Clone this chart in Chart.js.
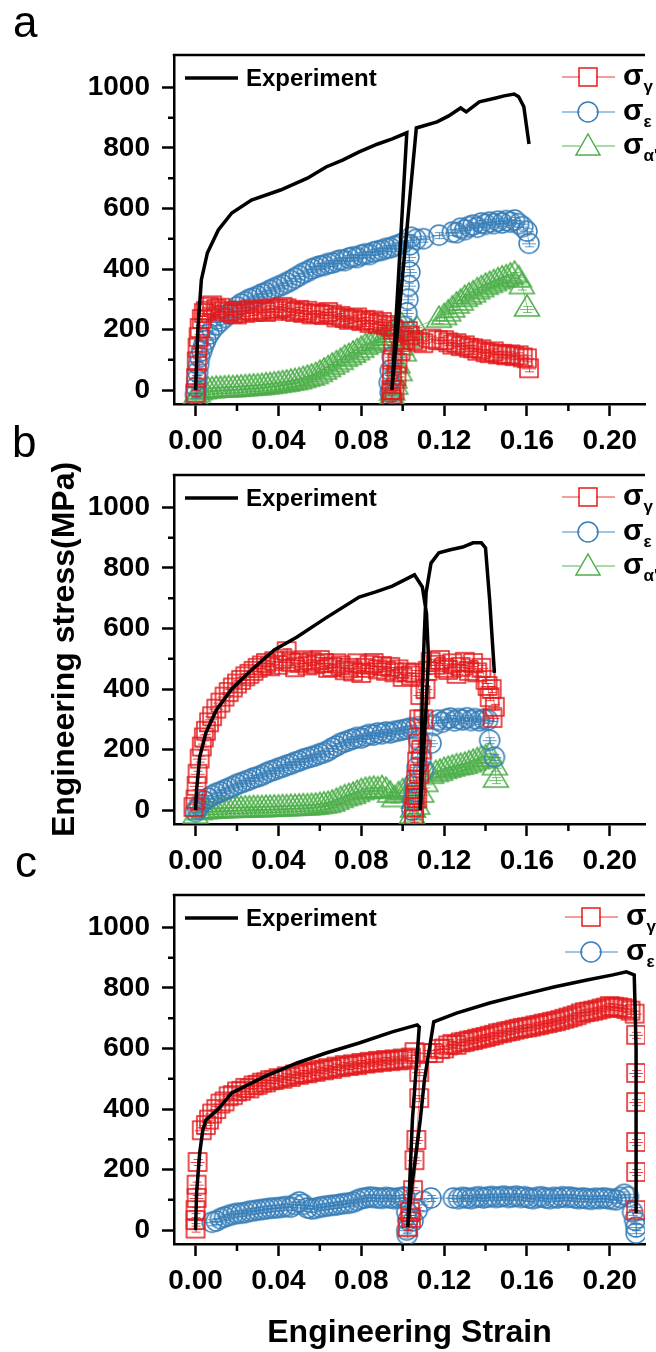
<!DOCTYPE html>
<html lang="en">
<head>
<meta charset="UTF-8">
<title>Engineering stress vs strain</title>
<script src="https://cdn.jsdelivr.net/npm/chart.js"></script>
<style>
  html, body { margin: 0; padding: 0; background: #fff; overflow: hidden; }
  body { width: 656px; height: 1352px; position: relative; }
  canvas { position: absolute; left: 0; }
</style>
</head>
<body>
<canvas id="chartA" width="656" height="470" style="top:0px"></canvas>
<canvas id="chartB" width="656" height="470" style="top:420px"></canvas>
<canvas id="chartC" width="656" height="512" style="top:840px"></canvas>
<script>
// axis ticks
const xTicks = [0, 0.04, 0.08, 0.12, 0.16, 0.20];
const xMinor = [0.02, 0.06, 0.10, 0.14, 0.18];
const yTicks = [0, 200, 400, 600, 800, 1000];
const yMinor = [100, 300, 500, 700, 900];

// ---- panel a : [strain, stress MPa] ----
const aExp = [[0,0],[0.0011,198],[0.0028,364],[0.0057,453],[0.011,529],[0.0175,585],[0.027,628],[0.041,661],[0.054,700],[0.063,737],[0.071,760],[0.079,787],[0.088,813],[0.095,830],[0.102,850],[0.0948,0],[0.1066,866],[0.1166,886],[0.122,905],[0.128,932],[0.1307,919],[0.137,952],[0.145,965],[0.149,972],[0.1538,978],[0.156,969],[0.1585,936],[0.161,813]];
const aGamma = [[0,-10],[0.0003,40],[0.0006,95],[0.001,140],[0.0015,175],[0.002,205],[0.003,235],[0.004,255],[0.005,262],[0.0065,275],[0.008,280],[0.01,268],[0.012,272],[0.014,262],[0.016,258],[0.018,252],[0.02,250],[0.022,262],[0.024,255],[0.026,265],[0.028,258],[0.03,262],[0.032,266],[0.034,258],[0.036,270],[0.038,262],[0.04,268],[0.042,275],[0.044,270],[0.046,262],[0.048,258],[0.05,265],[0.052,255],[0.054,262],[0.056,250],[0.058,254],[0.06,252],[0.062,248],[0.064,258],[0.066,250],[0.068,240],[0.07,245],[0.072,238],[0.074,232],[0.076,236],[0.078,240],[0.08,228],[0.082,232],[0.084,222],[0.086,230],[0.088,218],[0.09,225],[0.092,215],[0.094,210],[0.0955,200],[0.0955,150],[0.095,100],[0.0948,50],[0.0945,0],[0.0945,-25],[0.095,-38],[0.096,0],[0.097,45],[0.0975,90],[0.099,130],[0.1005,165],[0.1025,195],[0.1035,180],[0.105,165],[0.107,160],[0.11,155],[0.114,170],[0.117,165],[0.12,165],[0.122,158],[0.124,150],[0.126,155],[0.128,145],[0.13,148],[0.132,140],[0.134,138],[0.136,130],[0.138,135],[0.14,125],[0.142,122],[0.144,128],[0.146,118],[0.148,120],[0.15,115],[0.152,118],[0.154,112],[0.156,115],[0.158,108],[0.16,105],[0.161,72]];
const aEps = [[0,-15],[0.0003,10],[0.0006,35],[0.001,60],[0.0015,85],[0.002,110],[0.003,130],[0.004,150],[0.005,165],[0.0065,185],[0.008,200],[0.01,215],[0.012,228],[0.014,240],[0.016,252],[0.018,262],[0.02,275],[0.022,285],[0.024,292],[0.026,300],[0.028,305],[0.03,310],[0.032,318],[0.034,322],[0.036,330],[0.038,336],[0.04,342],[0.042,348],[0.044,355],[0.046,362],[0.048,370],[0.05,378],[0.052,386],[0.054,392],[0.056,400],[0.058,405],[0.06,410],[0.062,412],[0.064,418],[0.066,420],[0.068,425],[0.07,430],[0.072,428],[0.074,436],[0.076,440],[0.078,438],[0.08,446],[0.082,450],[0.084,448],[0.086,456],[0.088,460],[0.09,462],[0.092,468],[0.094,470],[0.096,475],[0.098,480],[0.1,485],[0.0965,200],[0.095,110],[0.094,65],[0.0935,25],[0.094,-8],[0.1005,210],[0.102,255],[0.1025,300],[0.103,345],[0.1035,390],[0.103,440],[0.1035,480],[0.104,505],[0.1065,498],[0.11,500],[0.1175,512],[0.124,522],[0.126,520],[0.128,535],[0.13,530],[0.132,540],[0.134,545],[0.136,538],[0.138,552],[0.14,548],[0.142,555],[0.144,550],[0.146,558],[0.148,552],[0.15,560],[0.152,555],[0.154,562],[0.156,550],[0.158,540],[0.16,525],[0.161,485]];
const aAlpha = [[0,-15],[0.001,-5],[0.002,2],[0.004,5],[0.006,8],[0.008,8],[0.01,10],[0.012,10],[0.014,11],[0.016,12],[0.018,12],[0.02,13],[0.022,14],[0.024,15],[0.026,16],[0.028,17],[0.03,18],[0.032,19],[0.034,21],[0.036,22],[0.038,24],[0.04,26],[0.042,28],[0.044,30],[0.046,33],[0.048,35],[0.05,38],[0.052,42],[0.054,46],[0.056,50],[0.058,55],[0.06,62],[0.062,70],[0.064,78],[0.066,86],[0.068,94],[0.07,102],[0.072,112],[0.074,118],[0.076,126],[0.078,134],[0.08,142],[0.082,152],[0.084,158],[0.086,164],[0.088,168],[0.09,172],[0.092,182],[0.094,192],[0.096,202],[0.098,212],[0.0995,220],[0.099,150],[0.0975,90],[0.096,40],[0.095,0],[0.0948,-15],[0.095,-25],[0.0965,20],[0.0985,65],[0.1005,130],[0.1025,175],[0.104,200],[0.107,208],[0.1175,241],[0.12,250],[0.122,262],[0.124,275],[0.126,288],[0.128,298],[0.13,310],[0.132,318],[0.134,325],[0.136,335],[0.138,342],[0.14,350],[0.142,356],[0.144,362],[0.146,368],[0.148,374],[0.15,378],[0.152,384],[0.154,390],[0.156,375],[0.1575,352],[0.16,278]];

// ---- panel b ----
const bExp = [[0,0],[0.0005,66],[0.002,175],[0.005,255],[0.01,330],[0.0175,400],[0.027,463],[0.038,529],[0.049,572],[0.063,635],[0.079,704],[0.087,721],[0.095,740],[0.1057,777],[0.1095,737],[0.1115,650],[0.1125,500],[0.111,300],[0.1085,0],[0.1095,397],[0.1104,572],[0.1113,717],[0.1137,816],[0.1175,850],[0.123,860],[0.129,869],[0.134,883],[0.138,883],[0.14,866],[0.142,694],[0.1443,453]];
const bGamma = [[-0.001,10],[0,35],[0.0005,80],[0.001,120],[0.002,170],[0.003,210],[0.004,240],[0.005,262],[0.0065,290],[0.008,310],[0.01,335],[0.012,355],[0.014,375],[0.016,390],[0.018,405],[0.02,418],[0.022,430],[0.024,442],[0.026,450],[0.028,460],[0.03,470],[0.032,478],[0.034,486],[0.036,475],[0.038,492],[0.04,480],[0.042,500],[0.044,525],[0.046,490],[0.048,472],[0.05,486],[0.052,495],[0.054,478],[0.056,490],[0.058,482],[0.06,496],[0.062,486],[0.064,470],[0.066,473],[0.068,485],[0.07,478],[0.072,462],[0.074,470],[0.076,458],[0.078,485],[0.08,453],[0.082,470],[0.084,480],[0.086,486],[0.088,465],[0.09,476],[0.092,460],[0.094,473],[0.096,455],[0.098,465],[0.1,440],[0.102,455],[0.104,445],[0.106,453],[0.1085,380],[0.108,300],[0.1075,220],[0.107,160],[0.1065,100],[0.106,50],[0.1055,10],[0.1055,-30],[0.107,40],[0.108,120],[0.109,200],[0.11,300],[0.111,400],[0.112,460],[0.1135,490],[0.116,480],[0.118,496],[0.12,470],[0.122,463],[0.124,485],[0.126,450],[0.128,473],[0.13,490],[0.132,460],[0.134,486],[0.136,455],[0.138,470],[0.14,430],[0.141,410],[0.142,373],[0.143,400],[0.1445,341],[0.1434,304]];
const bEps = [[0,-5],[0.001,5],[0.002,15],[0.004,30],[0.006,40],[0.008,48],[0.01,55],[0.012,60],[0.014,66],[0.016,72],[0.018,78],[0.02,85],[0.022,90],[0.024,95],[0.026,100],[0.028,106],[0.03,110],[0.032,115],[0.034,122],[0.036,128],[0.038,132],[0.04,138],[0.042,142],[0.044,148],[0.046,152],[0.048,158],[0.05,162],[0.052,168],[0.054,172],[0.056,176],[0.058,180],[0.06,186],[0.062,190],[0.064,196],[0.066,205],[0.068,212],[0.07,220],[0.072,225],[0.074,230],[0.076,235],[0.078,240],[0.08,238],[0.082,245],[0.084,250],[0.086,248],[0.088,255],[0.09,252],[0.092,258],[0.094,255],[0.096,260],[0.098,262],[0.1,265],[0.102,268],[0.104,272],[0.106,270],[0.108,230],[0.109,175],[0.107,142],[0.1057,89],[0.105,33],[0.1045,0],[0.106,60],[0.11,130],[0.1137,221],[0.115,280],[0.117,297],[0.119,290],[0.121,300],[0.123,304],[0.125,295],[0.127,302],[0.129,298],[0.131,305],[0.133,296],[0.135,302],[0.137,295],[0.139,300],[0.141,298],[0.142,231],[0.1443,175]];
const bAlpha = [[0,-10],[0.002,2],[0.004,5],[0.006,6],[0.008,7],[0.01,8],[0.012,8],[0.014,9],[0.016,9],[0.018,10],[0.02,10],[0.022,10],[0.024,11],[0.026,11],[0.028,12],[0.03,12],[0.032,12],[0.034,13],[0.036,13],[0.038,14],[0.04,14],[0.042,15],[0.044,15],[0.046,16],[0.048,16],[0.05,17],[0.052,18],[0.054,18],[0.056,19],[0.058,20],[0.06,22],[0.062,24],[0.064,26],[0.066,30],[0.068,36],[0.07,42],[0.072,48],[0.074,52],[0.076,56],[0.078,62],[0.08,68],[0.082,72],[0.084,74],[0.086,76],[0.088,74],[0.09,78],[0.092,72],[0.094,60],[0.096,45],[0.098,58],[0.1,68],[0.102,75],[0.104,80],[0.1055,40],[0.105,10],[0.1045,-10],[0.105,-25],[0.107,20],[0.109,60],[0.111,95],[0.1137,122],[0.116,128],[0.118,132],[0.12,138],[0.122,142],[0.124,146],[0.126,150],[0.128,152],[0.13,155],[0.132,160],[0.134,165],[0.136,170],[0.138,176],[0.14,180],[0.142,188],[0.1445,150],[0.145,109]];

// ---- panel c ----
const cExp = [[0,0],[0.0005,122],[0.002,254],[0.0035,330],[0.005,364],[0.011,400],[0.0175,453],[0.033,506],[0.049,552],[0.063,585],[0.079,618],[0.095,655],[0.107,678],[0.108,671],[0.1047,364],[0.1025,10],[0.104,122],[0.1085,364],[0.1105,496],[0.115,688],[0.126,717],[0.142,750],[0.1575,777],[0.173,803],[0.189,826],[0.2015,843],[0.208,853],[0.2118,843],[0.2127,600],[0.2127,56]];
const cGamma = [[0,5],[0,33],[0,66],[0.0005,106],[0.0005,150],[0.001,225],[0.003,330],[0.005,347],[0.0065,365],[0.008,385],[0.01,400],[0.012,418],[0.014,425],[0.016,442],[0.018,446],[0.02,458],[0.022,460],[0.024,470],[0.026,468],[0.028,478],[0.03,480],[0.032,487],[0.034,488],[0.036,495],[0.038,496],[0.04,502],[0.042,500],[0.044,508],[0.046,506],[0.048,514],[0.05,513],[0.052,519],[0.054,518],[0.056,524],[0.058,523],[0.06,530],[0.062,528],[0.064,535],[0.066,532],[0.068,540],[0.07,538],[0.072,545],[0.074,542],[0.076,548],[0.078,545],[0.08,552],[0.082,550],[0.084,556],[0.086,553],[0.088,559],[0.09,556],[0.092,562],[0.094,558],[0.096,564],[0.098,561],[0.1,567],[0.102,563],[0.104,570],[0.1057,588],[0.108,522],[0.108,436],[0.1066,298],[0.1057,231],[0.105,132],[0.1035,60],[0.1025,10],[0.104,40],[0.112,585],[0.115,585],[0.118,598],[0.12,600],[0.122,610],[0.124,615],[0.126,612],[0.128,620],[0.13,622],[0.132,626],[0.134,628],[0.136,632],[0.138,635],[0.14,638],[0.142,642],[0.144,645],[0.146,650],[0.148,652],[0.15,656],[0.152,658],[0.154,662],[0.156,665],[0.158,668],[0.16,670],[0.162,672],[0.164,676],[0.166,678],[0.168,682],[0.17,684],[0.172,688],[0.174,690],[0.176,694],[0.178,698],[0.18,702],[0.182,706],[0.184,710],[0.186,716],[0.188,720],[0.19,722],[0.192,725],[0.194,728],[0.196,732],[0.198,735],[0.2,740],[0.202,738],[0.204,736],[0.206,734],[0.208,730],[0.21,725],[0.212,715],[0.2127,645],[0.2127,519],[0.2127,423],[0.2127,291],[0.2127,192],[0.2127,66]];
const cEps = [[0.008,26],[0.01,30],[0.012,38],[0.014,43],[0.016,48],[0.018,52],[0.02,55],[0.022,56],[0.024,58],[0.026,62],[0.028,64],[0.03,66],[0.032,68],[0.034,70],[0.036,72],[0.038,73],[0.04,74],[0.042,76],[0.044,78],[0.046,76],[0.048,85],[0.05,93],[0.052,85],[0.054,73],[0.056,70],[0.058,72],[0.06,76],[0.062,78],[0.064,80],[0.066,82],[0.068,83],[0.07,86],[0.072,88],[0.074,89],[0.076,92],[0.078,98],[0.08,104],[0.082,106],[0.084,109],[0.086,108],[0.088,106],[0.09,105],[0.092,108],[0.094,106],[0.096,104],[0.098,106],[0.1,108],[0.101,109],[0.102,60],[0.1025,33],[0.102,0],[0.1022,-15],[0.105,30],[0.107,66],[0.11,95],[0.1137,106],[0.1245,106],[0.127,104],[0.129,108],[0.131,106],[0.133,104],[0.135,108],[0.137,110],[0.139,106],[0.141,109],[0.143,111],[0.145,108],[0.147,110],[0.149,112],[0.151,108],[0.153,110],[0.155,112],[0.157,108],[0.159,110],[0.161,106],[0.163,104],[0.165,108],[0.167,110],[0.169,106],[0.171,104],[0.173,108],[0.175,106],[0.177,110],[0.179,108],[0.181,109],[0.183,106],[0.185,104],[0.187,106],[0.189,104],[0.191,102],[0.193,105],[0.195,104],[0.197,106],[0.199,104],[0.201,102],[0.203,100],[0.205,108],[0.207,118],[0.209,110],[0.211,60],[0.212,33],[0.2127,10],[0.2127,-10]];

const FONT = '"Liberation Sans", Arial, Helvetica, sans-serif';
Chart.defaults.font.family = FONT;
Chart.defaults.color = '#000';

const RED = '#e41a1c', BLUE = '#377eb8', GREEN = '#4daf4a';
const RED_LINE = '#f07c7c', BLUE_LINE = '#7fb0dc', GREEN_LINE = '#8ccf89';

// hollow Origin-like symbols with the error-bar cross inside
function symbol(shape, color) {
  const c = document.createElement('canvas');
  const s = 28;
  c.width = s; c.height = s;
  const g = c.getContext('2d');
  const m = s / 2;
  g.strokeStyle = color;
  g.lineWidth = 1.5;
  g.beginPath();
  if (shape === 'rect') g.rect(m - 9, m - 9, 18, 18);
  else if (shape === 'circle') g.arc(m, m, 10, 0, Math.PI * 2);
  else { g.moveTo(m, m - 11); g.lineTo(m + 12.5, m + 10); g.lineTo(m - 12.5, m + 10); g.closePath(); }
  g.stroke();
  const cy = shape === 'triangle' ? m + 3 : m;
  g.globalAlpha = 0.8;
  g.lineWidth = 1;
  g.beginPath();
  g.moveTo(m - 7, cy + 0.5); g.lineTo(m + 7, cy + 0.5);
  g.moveTo(m + 0.5, cy - 3); g.lineTo(m + 0.5, cy + 4);
  g.moveTo(m - 4, cy - 2.5); g.lineTo(m + 5, cy - 2.5);
  g.moveTo(m - 4, cy + 3.5); g.lineTo(m + 5, cy + 3.5);
  g.stroke();
  return c;
}
const SYM = { gamma: symbol('rect', RED), eps: symbol('circle', BLUE), alpha: symbol('triangle', GREEN) };
const STYLE = {
  gamma: { color: RED, line: RED_LINE, sub: 'γ' },
  eps: { color: BLUE, line: BLUE_LINE, sub: 'ε' },
  alpha: { color: GREEN, line: GREEN_LINE, sub: "α'" }
};

// frame, minor ticks, panel letter and legends
const deco = {
  id: 'deco',
  afterDraw(chart, args, o) {
    const { ctx, chartArea: a } = chart;
    const x = chart.scales.x, y = chart.scales.y;
    ctx.save();
    ctx.strokeStyle = '#000';
    ctx.lineWidth = 2.5;
    ctx.beginPath();
    ctx.moveTo(a.left - 1.25, a.top);
    ctx.lineTo(a.right, a.top);
    xMinor.forEach(v => { const p = x.getPixelForValue(v); ctx.moveTo(p, a.bottom); ctx.lineTo(p, a.bottom + 7); });
    yMinor.forEach(v => { const p = y.getPixelForValue(v); ctx.moveTo(a.left, p); ctx.lineTo(a.left - 6, p); });
    ctx.stroke();

    ctx.fillStyle = '#000';
    ctx.font = '44px ' + FONT;
    ctx.textBaseline = 'alphabetic';
    ctx.fillText(o.letter, o.letterX, 37);

    // Experiment legend
    const ey = a.top + 23;
    ctx.lineWidth = 3.5;
    ctx.beginPath();
    ctx.moveTo(185, ey); ctx.lineTo(238, ey);
    ctx.stroke();
    ctx.font = 'bold 24px ' + FONT;
    ctx.textBaseline = 'middle';
    ctx.fillText('Experiment', 246, ey + 1);

    // phase legend
    const rows = [22, 57, 91];
    o.keys.forEach((k, i) => {
      const st = STYLE[k];
      const ry = a.top + rows[i];
      const lx = o.legendX;
      ctx.strokeStyle = st.line;
      ctx.lineWidth = 1.5;
      ctx.beginPath();
      ctx.moveTo(lx, ry); ctx.lineTo(lx + 53, ry);
      ctx.stroke();
      const img = SYM[k];
      ctx.clearRect(lx + 26 - 8, ry - 8, 16, 16);
      ctx.save();
      ctx.strokeStyle = st.color;
      ctx.lineWidth = 1.5;
      ctx.beginPath();
      if (k === 'gamma') ctx.rect(lx + 17, ry - 9, 18, 18);
      else if (k === 'eps') ctx.arc(lx + 26, ry, 10, 0, Math.PI * 2);
      else { ctx.moveTo(lx + 26, ry - 12); ctx.lineTo(lx + 38, ry + 9); ctx.lineTo(lx + 14, ry + 9); ctx.closePath(); }
      ctx.stroke();
      ctx.restore();
      ctx.fillStyle = '#000';
      ctx.textBaseline = 'alphabetic';
      ctx.font = 'bold 30px ' + FONT;
      ctx.fillText('σ', lx + 61, ry + 8);
      const w = ctx.measureText('σ').width;
      ctx.font = 'bold 17px ' + FONT;
      ctx.fillText(st.sub, lx + 61 + w, ry + 15);
    });
    ctx.restore();
  }
};

const pts = arr => arr.map(p => ({ x: p[0], y: p[1] }));

function panel(id, H, exp, series, o) {
  const datasets = [{
    label: 'Experiment', data: pts(exp), showLine: true, borderColor: '#000',
    borderWidth: 3.5, pointRadius: 0, tension: 0, order: 0
  }];
  series.forEach((s, i) => {
    const st = STYLE[s.key];
    datasets.push({
      label: 'σ' + st.sub, data: pts(s.data), showLine: true,
      borderColor: st.line, borderWidth: 1, pointStyle: SYM[s.key],
      pointRadius: 10, order: i + 1
    });
  });
  return new Chart(document.getElementById(id), {
    type: 'scatter',
    data: { datasets },
    options: {
      responsive: false, animation: false, devicePixelRatio: 1,
      layout: { padding: { top: 55, left: 0, right: 0, bottom: 0 } },
      plugins: { legend: { display: false }, tooltip: { enabled: false }, deco: o },
      scales: {
        x: {
          type: 'linear', min: -0.0104, max: 0.217,
          afterFit: sc => { sc.height = H - 404; },
          afterBuildTicks: sc => { sc.ticks = xTicks.map(v => ({ value: v })); },
          ticks: { autoSkip: false, maxRotation: 0, padding: 8, font: { size: 28, weight: 'bold' }, callback: v => v.toFixed(2) },
          grid: { drawOnChartArea: false, tickLength: 12, tickWidth: 2.5, tickColor: '#000' },
          border: { color: '#000', width: 2.5 },
          title: { display: !!o.xTitle, text: o.xTitle || '', font: { size: 32, weight: 'bold' }, padding: { top: 0, bottom: 0 } }
        },
        y: {
          type: 'linear', min: -46, max: 1107,
          afterFit: sc => { sc.width = 174; },
          afterBuildTicks: sc => { sc.ticks = yTicks.map(v => ({ value: v })); },
          ticks: { autoSkip: false, padding: 12, font: { size: 28, weight: 'bold' }, callback: v => String(v) },
          grid: { drawOnChartArea: false, tickLength: 12, tickWidth: 2.5, tickColor: '#000' },
          border: { color: '#000', width: 2.5 },
          title: { display: !!o.yTitle, text: o.yTitle || '', font: { size: 32, weight: 'bold' }, padding: { top: 46, bottom: 0 } }
        }
      }
    },
    plugins: [deco]
  });
}

panel('chartA', 470, aExp,
  [{ key: 'gamma', data: aGamma }, { key: 'eps', data: aEps }, { key: 'alpha', data: aAlpha }],
  { letter: 'a', letterX: 13, legendX: 562, keys: ['gamma', 'eps', 'alpha'] });
panel('chartB', 470, bExp,
  [{ key: 'gamma', data: bGamma }, { key: 'eps', data: bEps }, { key: 'alpha', data: bAlpha }],
  { letter: 'b', letterX: 12, legendX: 562, keys: ['gamma', 'eps', 'alpha'], yTitle: 'Engineering stress(MPa)' });
panel('chartC', 512, cExp,
  [{ key: 'gamma', data: cGamma }, { key: 'eps', data: cEps }],
  { letter: 'c', letterX: 15, legendX: 565, keys: ['gamma', 'eps'], xTitle: 'Engineering Strain' });
</script>
</body>
</html>
